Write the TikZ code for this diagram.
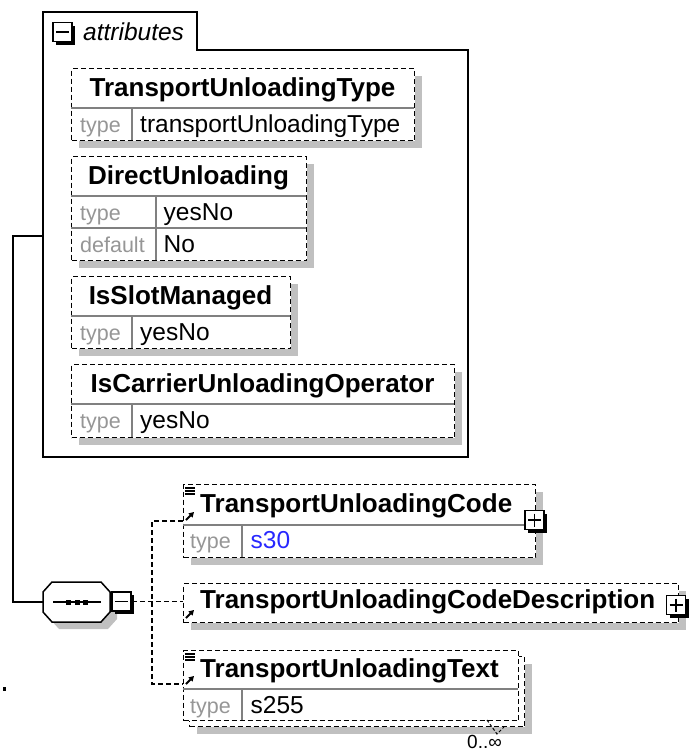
\documentclass[tikz,border=0pt]{standalone}
\usepackage{fontspec}
\setmainfont{Liberation Sans}
\usetikzlibrary{shadows,arrows.meta}
\definecolor{shadowgray}{RGB}{192,192,192}
\definecolor{labelgray}{RGB}{150,150,150}
\definecolor{rulegray}{RGB}{128,128,128}
\definecolor{typeblue}{RGB}{40,40,255}
\tikzset{
  optbox/.style={draw, line width=1.4pt, dash pattern=on 5pt off 3pt, fill=white, inner sep=0pt, anchor=north west},
  shadowbox/.style={optbox, general shadow={fill=shadowgray, shadow xshift=7pt, shadow yshift=-7pt}},
  toggle/.style={draw, line width=1.6pt, fill=white, minimum size=19pt, inner sep=0pt, general shadow={fill=black, shadow xshift=3pt, shadow yshift=-3pt}},
  collapsebox/.style={toggle, path picture={\draw[line width=1.4pt] ([xshift=3pt]path picture bounding box.west) -- ([xshift=-3pt]path picture bounding box.east);}},
  expandbox/.style={toggle, path picture={\draw[line width=1.4pt] ([xshift=3pt]path picture bounding box.west) -- ([xshift=-3pt]path picture bounding box.east); \draw[line width=1.4pt] ([yshift=-3pt]path picture bounding box.north) -- ([yshift=3pt]path picture bounding box.south);}},
  rule/.style={draw=rulegray, line width=1.2pt},
  tree/.style={line width=1.5pt},
  link/.style={line width=1.4pt, dash pattern=on 5pt off 3pt},
  attrname/.style={font=\fontsize{26pt}{30pt}\selectfont\bfseries, inner sep=0pt, anchor=base},
  elemname/.style={font=\fontsize{26pt}{30pt}\selectfont\bfseries, inner sep=0pt, anchor=base west},
  keylabel/.style={font=\fontsize{21.5pt}{26pt}\selectfont, text=labelgray, inner sep=0pt, anchor=base west},
  keyvalue/.style={font=\fontsize{24.5pt}{29pt}\selectfont, inner sep=0pt, anchor=base west},
  refarrow/.style={line width=1.8pt, -{Triangle[length=5pt,width=5.5pt]}}
}
\begin{document}
\begin{tikzpicture}[x=1pt, y=-1pt]
  \useasboundingbox[fill=white] (0,0) rectangle (691,753);

  \draw[tree] (43,12) -| (197,50) -| (468,457) -| cycle;
  \node[collapsebox] (attrtoggle) at (62.5,32) {};
  \node[font=\fontsize{24.5pt}{29pt}\selectfont\itshape, inner sep=0pt, anchor=base west] (attrtitle) at (83,40) {attributes};

  \node[shadowbox, minimum width=343pt, minimum height=72pt] (unloadtype) at (71,68) {};
  \draw[rule] (71,108) -- (414,108);
  \draw[rule] (132,108) -- (132,140);
  \node[attrname] (unloadtypename) at (242.5,96.5) {TransportUnloadingType};
  \node[keylabel] (unloadtypekey) at (80,132.5) {type};
  \node[keyvalue] (unloadtypeval) at (140,132.5) {transportUnloadingType};

  \node[shadowbox, minimum width=235pt, minimum height=104pt] (direct) at (71,156) {};
  \draw[rule] (71,196) -- (306,196);
  \draw[rule] (71,228) -- (306,228);
  \draw[rule] (156,196) -- (156,260);
  \node[attrname] (directname) at (188.5,184.5) {DirectUnloading};
  \node[keylabel] (directkey) at (80,220.5) {type};
  \node[keyvalue] (directval) at (163.5,220.5) {yesNo};
  \node[keylabel] (directdefkey) at (80,252.5) {default};
  \node[keyvalue] (directdefval) at (163.5,252.5) {No};

  \node[shadowbox, minimum width=219pt, minimum height=72pt] (slot) at (71,276) {};
  \draw[rule] (71,316) -- (290,316);
  \draw[rule] (132,316) -- (132,348);
  \node[attrname] (slotname) at (180.5,304.5) {IsSlotManaged};
  \node[keylabel] (slotkey) at (80,340.5) {type};
  \node[keyvalue] (slotval) at (140,340.5) {yesNo};

  \node[shadowbox, minimum width=383pt, minimum height=73pt] (carrier) at (71,364) {};
  \draw[rule] (71,404) -- (454,404);
  \draw[rule] (132,404) -- (132,437);
  \node[attrname] (carriername) at (262.5,392.5) {IsCarrierUnloadingOperator};
  \node[keylabel] (carrierkey) at (80,428.5) {type};
  \node[keyvalue] (carrierval) at (140,428.5) {yesNo};

  \fill[shadowgray, shift={(7,7)}] (52,582) -- (101,582) -- (110,592) -- (110,612) -- (101,622) -- (52,622) -- (43,612) -- (43,592) -- cycle;
  \draw[tree, fill=white] (52,582) -- (101,582) -- (110,592) -- (110,612) -- (101,622) -- (52,622) -- (43,612) -- (43,592) -- cycle;
  \draw[tree] (53,602) -- (101,602);
  \foreach \x in {68.5,77,85.5}
    \fill (\x-2.5,599.5) rectangle (\x+2.5,604.5);
  \node[collapsebox] (seqtoggle) at (121.5,601.5) {};

  \coordinate (attrin) at (43,236);
  \coordinate (trunk) at (13,236);
  \coordinate (seqin) at (43,602);
  \draw[tree] (attrin) -- (trunk) |- (seqin);

  \node[shadowbox, minimum width=352pt, minimum height=73pt] (codebox) at (183,484) {};
  \draw[rule] (183,525) -- (535,525);
  \draw[rule] (242,525) -- (242,557);
  \draw[line width=1.2pt] (185,488) -- (195,488) (185,491) -- (195,491) (185,494) -- (195,494);
  \draw[refarrow] (186,520) -- (194,512);
  \node[elemname] (codename) at (200,512) {TransportUnloadingCode};
  \node[keylabel] (codekey) at (190,548.5) {type};
  \node[keyvalue, text=typeblue] (codeval) at (250.5,548.5) {s30};
  \node[expandbox] (codetoggle) at (534.5,520) {};

  \node[shadowbox, minimum width=495pt, minimum height=39pt] (descbox) at (183,583) {};
  \draw[refarrow] (186,618) -- (194,610);
  \node[elemname] (descname) at (200,608) {TransportUnloadingCodeDescription};
  \node[expandbox] (desctoggle) at (676,605) {};

  \node[shadowbox, minimum width=335pt, minimum height=70pt] (textback) at (189,656) {};
  \node[optbox, minimum width=335pt, minimum height=70pt] (textbox) at (183,650) {};
  \draw[rule] (183,689) -- (518,689);
  \draw[rule] (242,689) -- (242,720);
  \draw[line width=1.2pt] (185,654) -- (195,654) (185,657) -- (195,657) (185,660) -- (195,660);
  \draw[refarrow] (186,684) -- (194,676);
  \node[elemname] (textname) at (200,677) {TransportUnloadingText};
  \node[keylabel] (textkey) at (190,713) {type};
  \node[keyvalue] (textval) at (250.5,713) {s255};
  \draw[line width=1pt, dash pattern=on 3pt off 2pt] (487,720) -- (497,734) -- (504,727);
  \node[font=\fontsize{19pt}{23pt}\selectfont, inner sep=0pt, anchor=base west] (textcount) at (467,748) {0..∞};

  \coordinate (codein) at ([yshift=-37pt]codebox.north west);
  \coordinate (textin) at ([yshift=-34pt]textbox.north west);
  \coordinate (fork) at (152,602);
  \draw[link] (seqtoggle.east) -- (seqtoggle.east -| descbox.west);
  \draw[link] (codein) -| (fork) |- (textin);

  \fill (3,687) rectangle (6,691);
\end{tikzpicture}
\end{document}
